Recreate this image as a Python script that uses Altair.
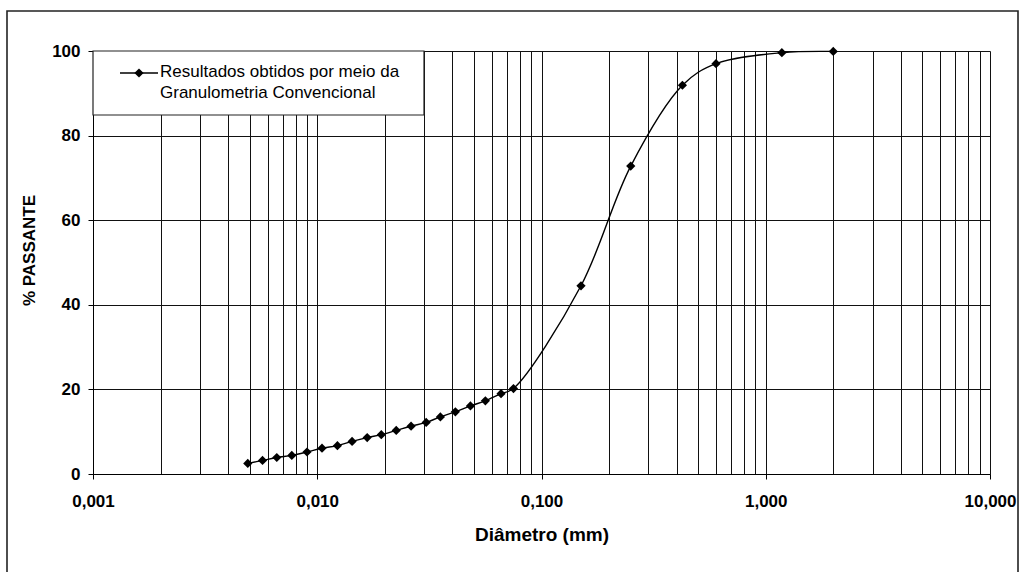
import altair as alt
import pandas as pd

# ---- data ----
diametro = [0.0049, 0.0057, 0.0066, 0.0077, 0.0090, 0.0105, 0.0123, 0.0143,
            0.0167, 0.0193, 0.0225, 0.0262, 0.0306, 0.0354, 0.0413, 0.0482,
            0.0562, 0.0660, 0.0750, 0.150, 0.250, 0.425, 0.600, 1.18, 2.00]
passante = [2.5, 3.2, 3.9, 4.4, 5.2, 6.1, 6.7, 7.7, 8.6, 9.3, 10.3, 11.3,
            12.2, 13.5, 14.7, 16.1, 17.3, 19.0, 20.2, 44.5, 72.8, 91.9,
            97.0, 99.6, 99.9]

x_grid_values = [0.001, 0.002, 0.003, 0.004, 0.005, 0.006, 0.007, 0.008, 0.009,
                 0.01, 0.02, 0.03, 0.04, 0.05, 0.06, 0.07, 0.08, 0.09,
                 0.1, 0.2, 0.3, 0.4, 0.5, 0.6, 0.7, 0.8, 0.9,
                 1, 2, 3, 4, 5, 6, 7, 8, 9, 10]
y_tick_values = [0, 20, 40, 60, 80, 100]
legend_lines = ["Resultados obtidos por meio da", "Granulometria Convencional"]
x_title = "Diâmetro (mm)"
y_title = "% PASSANTE"

FONT = "Liberation Sans"
W, H = 897, 423

df = pd.DataFrame({"d": diametro, "p": passante})

decade_test = "abs(log(datum.value)/LN10 - round(log(datum.value)/LN10)) < 1e-6"

x_enc = alt.X(
    "d:Q",
    scale=alt.Scale(type="log", domain=[0.001, 10], nice=False),
    axis=alt.Axis(
        values=x_grid_values,
        title=x_title,
        labelExpr="(" + decade_test + ") ? replace(format(datum.value, '.3f'), '.', ',') : ''",
        labelFont=FONT, labelFontSize=17, labelFontWeight="bold", labelColor="black",
        labelPadding=14, labelOverlap=False, labelFlush=False,
        tickColor={"condition": {"test": decade_test, "value": "black"}, "value": "transparent"},
        tickSize=5, tickWidth=1,
        grid=True, gridColor="#111", gridWidth=1, gridOpacity=1,
        domainColor="black", domainWidth=1,
        titleFont=FONT, titleFontSize=19, titleFontWeight="bold", titleColor="black",
        titleBaseline="middle", titleY=60, titleX=W / 2,
    ),
)
y_enc = alt.Y(
    "p:Q",
    scale=alt.Scale(domain=[0, 100], nice=False),
    axis=alt.Axis(
        values=y_tick_values,
        title=y_title,
        labelFont=FONT, labelFontSize=17, labelFontWeight="bold", labelColor="black",
        labelPadding=8,
        tickColor="black", tickSize=5, tickWidth=1,
        grid=True, gridColor="#111", gridWidth=1, gridOpacity=1,
        domainColor="black", domainWidth=1,
        titleFont=FONT, titleFontSize=17, titleFontWeight="bold", titleColor="black",
        titleAngle=270, titleBaseline="middle", titleAlign="center",
        titleX=-64, titleY=199,
    ),
)

line = alt.Chart(df).mark_line(
    color="black", strokeWidth=1.4, interpolate="catmull-rom"
).encode(x=x_enc, y=y_enc)

points = alt.Chart(df).mark_point(
    shape="diamond", filled=True, color="black", size=85, opacity=1
).encode(x="d:Q", y="p:Q")

one = pd.DataFrame({"t": ["\n".join(legend_lines)]})

# outer chart frame
frame = alt.Chart(one).mark_rect(
    filled=False, stroke="#222", strokeWidth=1.6, fill="transparent"
).encode(x=alt.value(-86), x2=alt.value(925), y=alt.value(-40), y2=alt.value(560))

# legend box
leg_box = alt.Chart(one).mark_rect(
    fill="white", stroke="#222", strokeWidth=1.2
).encode(x=alt.value(0), x2=alt.value(331), y=alt.value(0), y2=alt.value(64))
leg_line = alt.Chart(one).mark_rule(color="black", strokeWidth=1.4).encode(
    x=alt.value(27), x2=alt.value(65), y=alt.value(22))
leg_pt = alt.Chart(one).mark_point(
    shape="diamond", filled=True, color="black", size=85, opacity=1
).encode(x=alt.value(46), y=alt.value(22))
leg_txt = alt.Chart(one).mark_text(
    align="left", baseline="middle", font=FONT, fontSize=17, color="black",
    lineBreak="\n", lineHeight=21
).encode(x=alt.value(67), y=alt.value(21), text="t:N")

chart = alt.layer(frame, leg_box, leg_line, leg_pt, leg_txt, line, points).properties(
    width=W, height=H,
    autosize=alt.AutoSizeParams(type="none"),
    padding={"left": 93, "top": 51, "right": 30, "bottom": 98},
    background="white",
).configure_view(stroke="transparent")

chart.save("out.html", embed_options={"renderer": "svg", "actions": False})
